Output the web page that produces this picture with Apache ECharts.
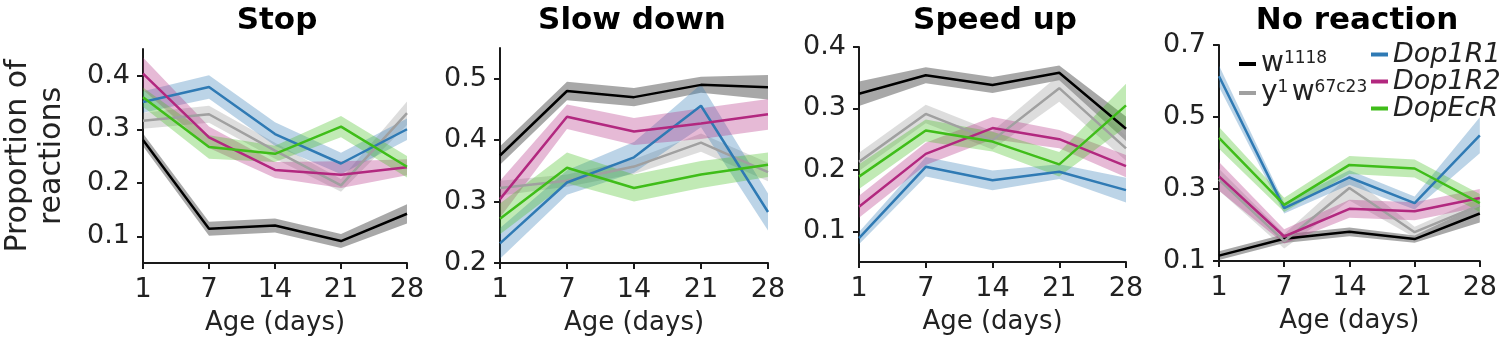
<!DOCTYPE html>
<html>
<head>
<meta charset="utf-8">
<script src="https://cdn.jsdelivr.net/npm/echarts@6/dist/echarts.min.js"></script>
<style>
html, body { margin: 0; padding: 0; background: #fff; }
#main { width: 1500px; height: 341px; }
</style>
</head>
<body>
<div id="main"></div>
<script>
// ages (days) on the x axis
var days = ['1', '7', '14', '21', '28'];
// genotype order: w1118, y1 w67c23, Dop1R1, Dop1R2, DopEcR
var genotypes = ['w1118', 'y1 w67c23', 'Dop1R1', 'Dop1R2', 'DopEcR'];
var lineColors = ['#000000', '#a0a0a0', '#2f7ab4', '#b2287f', '#3fbd19'];
var bandColors = ['rgba(0,0,0,0.34)', 'rgba(150,150,150,0.32)', 'rgba(47,122,180,0.32)', 'rgba(178,40,127,0.32)', 'rgba(63,189,25,0.32)'];

// Stop
var stopMean = [
    [0.280, 0.114, 0.120, 0.091, 0.142],
    [0.316, 0.328, 0.260, 0.195, 0.330],
    [0.351, 0.379, 0.291, 0.236, 0.300],
    [0.404, 0.285, 0.224, 0.215, 0.229],
    [0.360, 0.267, 0.254, 0.305, 0.230]
];
var stopErr = [
    [0.012, 0.013, 0.013, 0.013, 0.018],
    [0.015, 0.016, 0.015, 0.012, 0.022],
    [0.020, 0.022, 0.022, 0.020, 0.020],
    [0.030, 0.020, 0.015, 0.025, 0.015],
    [0.018, 0.022, 0.015, 0.020, 0.020]
];
// Slow down
var slowMean = [
    [0.375, 0.480, 0.470, 0.490, 0.486],
    [0.322, 0.334, 0.357, 0.396, 0.348],
    [0.232, 0.331, 0.372, 0.456, 0.283],
    [0.304, 0.438, 0.414, 0.427, 0.442],
    [0.272, 0.355, 0.322, 0.344, 0.360]
];
var slowErr = [
    [0.015, 0.015, 0.015, 0.013, 0.020],
    [0.012, 0.010, 0.012, 0.015, 0.015],
    [0.025, 0.020, 0.025, 0.035, 0.030],
    [0.030, 0.020, 0.022, 0.025, 0.025],
    [0.025, 0.025, 0.022, 0.022, 0.020]
];
// Speed up
var speedMean = [
    [0.324, 0.354, 0.338, 0.358, 0.267],
    [0.213, 0.291, 0.248, 0.333, 0.235],
    [0.089, 0.205, 0.183, 0.197, 0.167],
    [0.140, 0.226, 0.268, 0.250, 0.206],
    [0.189, 0.264, 0.246, 0.209, 0.305]
];
var speedErr = [
    [0.020, 0.013, 0.013, 0.012, 0.020],
    [0.015, 0.015, 0.015, 0.022, 0.020],
    [0.010, 0.016, 0.016, 0.012, 0.020],
    [0.018, 0.018, 0.018, 0.015, 0.018],
    [0.020, 0.018, 0.016, 0.020, 0.035]
];
// No reaction
var noneMean = [
    [0.115, 0.162, 0.181, 0.161, 0.232],
    [0.326, 0.155, 0.303, 0.180, 0.255],
    [0.613, 0.247, 0.332, 0.261, 0.449],
    [0.335, 0.168, 0.245, 0.238, 0.275],
    [0.442, 0.256, 0.367, 0.357, 0.261]
];
var noneErr = [
    [0.012, 0.012, 0.012, 0.010, 0.025],
    [0.030, 0.020, 0.035, 0.015, 0.020],
    [0.030, 0.015, 0.020, 0.018, 0.050],
    [0.040, 0.020, 0.025, 0.025, 0.025],
    [0.030, 0.020, 0.025, 0.025, 0.025]
];

var titles = ['Stop', 'Slow down', 'Speed up', 'No reaction'];
var titleX = [272, 627, 990, 1352];
var yMin = [0.05, 0.2, 0.05, 0.1];
var yMax = [0.45, 0.55, 0.4, 0.7];
var yTicks = [[0.1, 0.2, 0.3, 0.4], [0.2, 0.3, 0.4, 0.5], [0.1, 0.2, 0.3, 0.4], [0.1, 0.3, 0.5, 0.7]];
var means = [stopMean, slowMean, speedMean, noneMean];
var errs = [stopErr, slowErr, speedErr, noneErr];

var grids = [
    { left: 140, top: 49, width: 267, height: 215 },
    { left: 500, top: 48, width: 268, height: 215 },
    { left: 859, top: 47, width: 267, height: 215 },
    { left: 1219, top: 45, width: 273, height: 216 }
];

var font = 'DejaVu Sans';
var axisColor = '#1a1a1a';

var xAxes = [], yAxes = [], series = [], titleList = [];
for (var p = 0; p < 4; p++) {
    titleList.push({
        text: titles[p], left: titleX[p], top: 0, textAlign: 'center',
        textStyle: { fontFamily: font, fontSize: 31, fontWeight: 'bold', color: '#000' }
    });
    xAxes.push({
        gridIndex: p, type: 'category', data: days, boundaryGap: false,
        name: 'Age (days)', nameLocation: 'middle', nameGap: 47,
        nameTextStyle: { fontFamily: font, fontSize: 26, color: '#222' },
        axisLine: { lineStyle: { color: axisColor, width: 2 } },
        axisTick: { length: 6, lineStyle: { color: axisColor, width: 2 } },
        axisLabel: { fontFamily: font, fontSize: 27, color: '#222', margin: 13 },
        splitLine: { show: false }
    });
    var ticks = yTicks[p];
    yAxes.push({
        gridIndex: p, type: 'value', min: yMin[p], max: yMax[p],
        name: p === 0 ? 'Proportion of\nreactions' : '',
        nameLocation: 'middle', nameGap: 74,
        nameTextStyle: { fontFamily: font, fontSize: 30, color: '#222', lineHeight: 34 },
        axisLine: { show: true, lineStyle: { color: axisColor, width: 2 } },
        axisTick: { show: true, length: 6, customValues: ticks, lineStyle: { color: axisColor, width: 2 } },
        axisLabel: {
            fontFamily: font, fontSize: 27, color: '#222', margin: 13, customValues: ticks,
            formatter: function (v) { return v.toFixed(1); }
        },
        splitLine: { show: false }
    });
    for (var g = 0; g < 5; g++) {
        var m = means[p][g], e = errs[p][g];
        var lower = m.map(function (v, i) { return +(v - e[i]).toFixed(4); });
        var width = e.map(function (v) { return +(2 * v).toFixed(4); });
        var stackId = 'band' + p + '_' + g;
        series.push({
            type: 'line', xAxisIndex: p, yAxisIndex: p, stack: stackId, data: lower,
            symbol: 'none', silent: true, lineStyle: { opacity: 0 }, z: 1
        });
        series.push({
            type: 'line', xAxisIndex: p, yAxisIndex: p, stack: stackId, data: width,
            symbol: 'none', silent: true, lineStyle: { opacity: 0 },
            areaStyle: { color: bandColors[g], opacity: 1 }, z: 1
        });
    }
    for (var g2 = 0; g2 < 5; g2++) {
        series.push({
            name: genotypes[g2], type: 'line', xAxisIndex: p, yAxisIndex: p,
            data: means[p][g2], symbol: 'none',
            itemStyle: { color: lineColors[g2] },
            lineStyle: { color: lineColors[g2], width: 2.5 }, z: 3
        });
    }
}

var richText = {
    n: { fontFamily: font, fontSize: 28, color: '#222', lineHeight: 28, verticalAlign: 'bottom' },
    s: { fontFamily: font, fontSize: 17, color: '#222', lineHeight: 28, verticalAlign: 'top' },
    i: { fontFamily: font, fontSize: 27, fontStyle: 'italic', color: '#222', lineHeight: 26 }
};

var myChart = echarts.init(document.getElementById('main'));
myChart.setOption({
    animation: false,
    title: titleList,
    grid: grids,
    xAxis: xAxes,
    yAxis: yAxes,
    legend: [{
        data: ['w1118', 'y1 w67c23'], orient: 'vertical', left: 1234, top: 45,
        itemGap: 1, itemWidth: 17, itemHeight: 4, icon: 'rect', selectedMode: false,
        formatter: function (name) {
            return name === 'w1118' ? '{n|w}{s|1118}' : '{n|y}{s|1} {n|w}{s|67c23}';
        },
        textStyle: { rich: richText }
    }, {
        data: ['Dop1R1', 'Dop1R2', 'DopEcR'], orient: 'vertical', left: 1366, top: 36,
        itemGap: 0, itemWidth: 17, itemHeight: 4, icon: 'rect', selectedMode: false,
        formatter: function (name) { return '{i|' + name + '}'; },
        textStyle: { rich: richText }
    }],
    series: series
});
</script>
</body>
</html>
